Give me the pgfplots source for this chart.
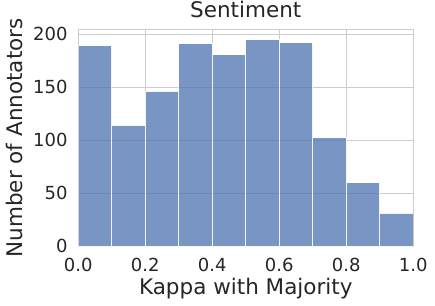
\documentclass[border=0pt]{standalone}
\usepackage{fontspec}
\setmainfont{DejaVu Sans}
\usepackage{pgfplots}
\pgfplotsset{compat=1.18}
\definecolor{barblue}{HTML}{4C72B0}
\definecolor{gridgray}{HTML}{CCCCCC}
\definecolor{txt}{HTML}{262626}
\begin{document}
\begin{tikzpicture}
\begin{axis}[
  name=ax,
  scale only axis,
  width=335bp, height=217bp,
  xmin=0, xmax=1, ymin=0, ymax=204.75,
  xtick={0,0.2,0.4,0.6,0.8,1.0},
  xticklabels={0.0,0.2,0.4,0.6,0.8,1.0},
  ytick={0,50,100,150,200},
  yticklabels={0,50,100,150,200},
  major tick length=0pt,
  grid=major,
  grid style={gridgray, line width=1bp},
  axis line style={gridgray, line width=1.25bp},
  ticklabel style={font=\fontsize{18bp}{21bp}\selectfont, text=txt},
  yticklabel style={inner sep=0pt, anchor=east, xshift=-10.5bp},
  xticklabel style={inner sep=0pt, anchor=north, yshift=-11.2bp},
  label style={font=\fontsize{21.5bp}{25bp}\selectfont, text=txt},
  xlabel={Kappa with Majority},
  ylabel={Number of Annotators},
  xlabel style={at={(axis description cs:0.5,-0.2244)}, anchor=base, inner sep=0pt},
  ylabel style={at={(axis description cs:-0.1651,0.5)}, anchor=base, inner sep=0pt},
  title={Sentiment},
  title style={at={(axis description cs:0.5,1.0276)}, anchor=base, inner sep=0pt, font=\fontsize{21.5bp}{25bp}\selectfont, text=txt},
]
\addplot[ybar interval, fill=barblue, fill opacity=0.75, draw=white, draw opacity=0.9, line width=1bp]
coordinates {(0.0,189) (0.1,114) (0.2,146.5) (0.3,191) (0.4,180.5) (0.5,194.7) (0.6,192) (0.7,102.3) (0.8,59.8) (0.9,31.4) (1.0,31.4)};
\end{axis}
\pgfresetboundingbox
\path (ax.south west) ++(-78.3bp,-59.7bp) coordinate (bl);
\path (ax.north east) ++(21.7bp,29.3bp) coordinate (tr);
\path (bl) rectangle (tr);
\end{tikzpicture}
\end{document}
